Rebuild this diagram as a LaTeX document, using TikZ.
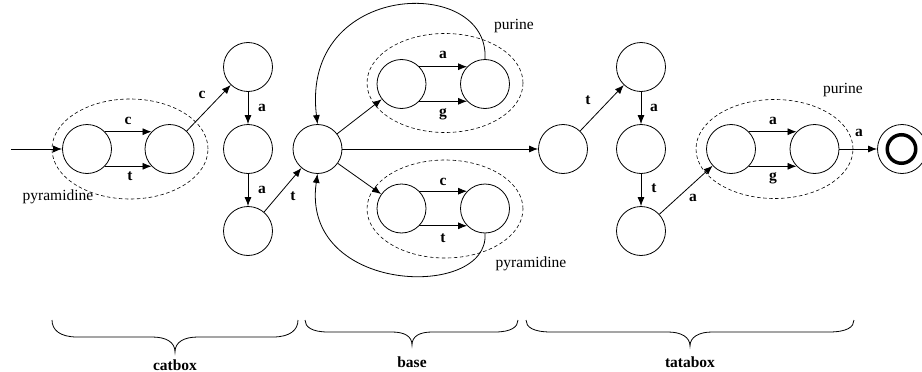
\documentclass[tikz,border=0pt]{standalone}
\usepackage{fontspec}
\setmainfont{Liberation Serif}
\usetikzlibrary{arrows.meta,shapes.geometric}
\begin{document}
\begin{tikzpicture}[x=1pt,y=-1pt,
  state/.style={circle,draw,line width=0.8pt,minimum size=49pt,inner sep=0pt},
  grp/.style={ellipse,draw,dashed,dash pattern=on 3.5pt off 2.5pt,line width=0.6pt,inner sep=0pt},
  edge/.style={line width=0.8pt,-{Latex[length=9pt,width=7pt]}},
  lbl/.style={font=\fontsize{15.5}{18}\selectfont\bfseries,inner sep=0pt},
  txt/.style={font=\fontsize{15.5}{18}\selectfont,inner sep=0pt},
  brc/.style={line width=0.8pt}]
\useasboundingbox (0,0) rectangle (922,372);
% groups
\node[grp,minimum width=156pt,minimum height=100pt] (E1) at (130,149) {};
\node[grp,minimum width=156pt,minimum height=99pt] (E2) at (445,83) {};
\node[grp,minimum width=156pt,minimum height=98pt] (E3) at (445,209) {};
\node[grp,minimum width=157pt,minimum height=99pt] (E4) at (774.5,149) {};
% states
\node[state] (A1) at (87,149) {};
\node[state] (A2) at (169.5,149) {};
\node[state] (A3) at (248,67) {};
\node[state] (A4) at (248,149) {};
\node[state] (A5) at (248,231) {};
\node[state] (B0) at (317.5,149) {};
\node[state] (B1) at (401.5,84) {};
\node[state] (B2) at (485,84) {};
\node[state] (B3) at (401.5,208.5) {};
\node[state] (B4) at (485,208.5) {};
\node[state] (C1) at (563,149) {};
\node[state] (C2) at (641,67) {};
\node[state] (C3) at (641,149) {};
\node[state] (C4) at (641,231) {};
\node[state] (D1) at (731,149) {};
\node[state] (D2) at (814.5,149) {};
\node[state] (F) at (902,149) {};
\node[circle,draw,line width=3.5pt,minimum size=28.5pt,inner sep=0pt] (Fin) at (901.5,149) {};
\coordinate (S) at (11,149);
% edges
\draw[edge] (S) -- (A1);
\draw[edge] (A1.44) -- (A2.136);
\draw[edge] (A1.-44) -- (A2.-136);
\draw[edge] (A2) -- (A3);
\draw[edge] (A3) -- (A4);
\draw[edge] (A4) -- (A5);
\draw[edge] (A5) -- (B0);
\draw[edge] (B0) -- (B1);
\draw[edge] (B0) -- (B3);
\draw[edge] (B1.44) -- (B2.136);
\draw[edge] (B1.-44) -- (B2.-136);
\draw[edge] (B3.44) -- (B4.136);
\draw[edge] (B3.-44) -- (B4.-136);
\draw[edge] (B2.90) .. controls (490,-25) and (300,-20) .. (B0.90);
\draw[edge] (B4.270) .. controls (490,300) and (300,295) .. (B0.270);
\draw[edge] (B0) -- (C1);
\draw[edge] (C1) -- (C2);
\draw[edge] (C2) -- (C3);
\draw[edge] (C3) -- (C4);
\draw[edge] (C4) -- (D1);
\draw[edge] (D1.44) -- (D2.136);
\draw[edge] (D1.-44) -- (D2.-136);
\draw[edge] (D2) -- (F);
% edge labels
\node[lbl] (l1) at (128,121) {c};
\node[lbl] (l2) at (130,176) {t};
\node[lbl] (l3) at (202,95) {c};
\node[lbl] (l4) at (262,108) {a};
\node[lbl] (l5) at (262,190) {a};
\node[lbl] (l6) at (293,196) {t};
\node[lbl] (l7) at (443,55) {a};
\node[lbl] (l8) at (443,114) {g};
\node[lbl] (l9) at (443,182) {c};
\node[lbl] (l10) at (443,238) {t};
\node[lbl] (l11) at (588,100) {t};
\node[lbl] (l12) at (654,108) {a};
\node[lbl] (l13) at (654,188) {t};
\node[lbl] (l14) at (693,198) {a};
\node[lbl] (l15) at (773,121) {a};
\node[lbl] (l16) at (773,178) {g};
\node[lbl] (l17) at (859,133) {a};
% group labels
\node[txt] (t1) at (58,197) {pyramidine};
\node[txt] (t2) at (514,26) {purine};
\node[txt] (t3) at (531,264) {pyramidine};
\node[txt] (t4) at (843,90) {purine};
% braces
\draw[brc] (52,320) .. controls (52,330) and (60,337) .. (77,337) -- (152,337)
  .. controls (166,337) and (175,342) .. (175,352)
  .. controls (175,342) and (184,337) .. (198,337) -- (273,337)
  .. controls (290,337) and (298,330) .. (298,320);
\draw[brc] (305,320) .. controls (305,327) and (312,332) .. (328,332) -- (392,332)
  .. controls (404,332) and (412,336) .. (412,345)
  .. controls (412,336) and (420,332) .. (432,332) -- (495,332)
  .. controls (511,332) and (518,327) .. (518,320);
\draw[brc] (526,320) .. controls (526,327) and (533,332) .. (551,332) -- (668,332)
  .. controls (681,332) and (690,337) .. (690,346)
  .. controls (690,337) and (699,332) .. (712,332) -- (829,332)
  .. controls (847,332) and (854,327) .. (854,320);
\node[lbl,anchor=base] (b1) at (175,370) {catbox};
\node[lbl,anchor=base] (b2) at (412,367) {base};
\node[lbl,anchor=base] (b3) at (690,367) {tatabox};
\end{tikzpicture}
\end{document}
